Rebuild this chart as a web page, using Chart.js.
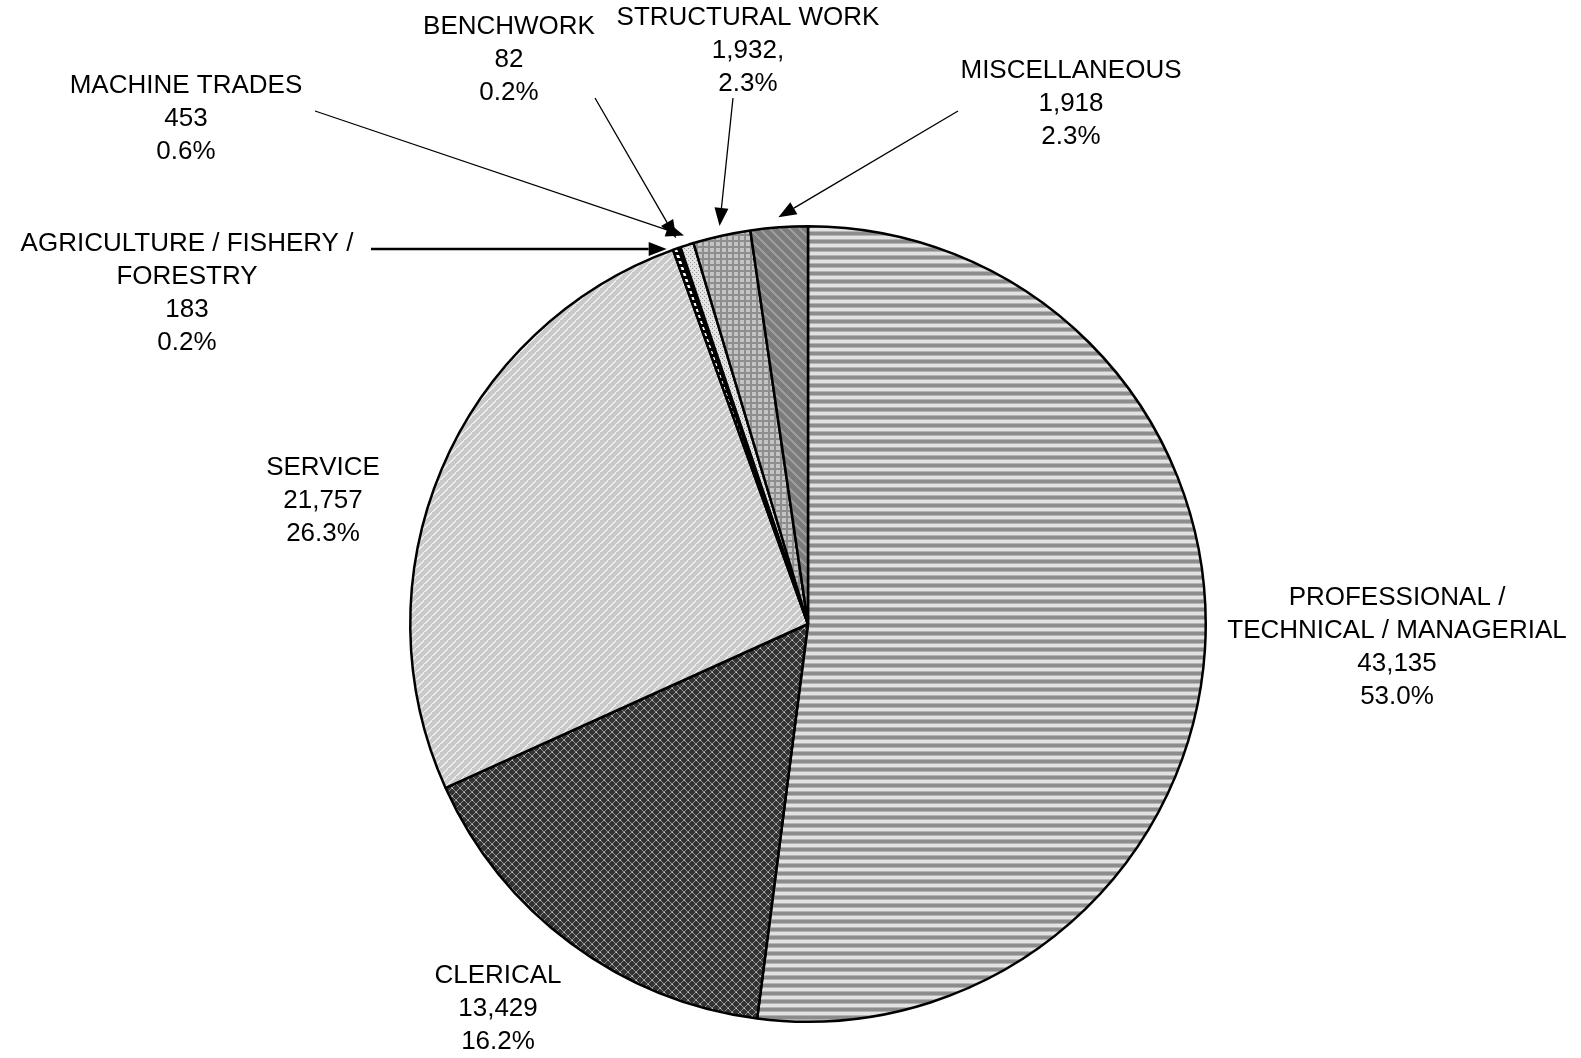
<!DOCTYPE html>
<html>
<head>
<meta charset="utf-8">
<script src="https://cdn.jsdelivr.net/npm/chart.js@4"></script>
<style>
  html, body { margin: 0; padding: 0; background: #fff; }
  #wrap { width: 1581px; height: 1058px; }
</style>
</head>
<body>
<div id="wrap"><canvas id="occ-pie"></canvas></div>
<script>
// data, clockwise from 12 o'clock
const categories = [
  ['PROFESSIONAL /', 'TECHNICAL / MANAGERIAL'],
  ['CLERICAL'],
  ['SERVICE'],
  ['AGRICULTURE / FISHERY /', 'FORESTRY'],
  ['BENCHWORK'],
  ['MACHINE TRADES'],
  ['STRUCTURAL WORK'],
  ['MISCELLANEOUS']
];
const counts = [43135, 13429, 21757, 183, 82, 453, 1932, 1918];
const countLabels = ['43,135', '13,429', '21,757', '183', '82', '453', '1,932,', '1,918'];
const pctLabels = ['53.0%', '16.2%', '26.3%', '0.2%', '0.2%', '0.6%', '2.3%', '2.3%'];

// label placement (text centre x, first line y, arrow start) - layout only
const labelLayout = [
  { x: 1397, y: 598, arrow: null },
  { x: 498, y: 976, arrow: null },
  { x: 323, y: 468, arrow: null },
  { x: 187, y: 244, arrow: [371, 249], tipY: 249, heavy: true },
  { x: 509, y: 27, arrow: [595, 98] },
  { x: 186, y: 86, arrow: [315, 111] },
  { x: 748, y: 18, arrow: [733, 98] },
  { x: 1071, y: 71, arrow: [958, 111] }
];

function makePattern(size, draw) {
  const c = document.createElement('canvas');
  c.width = size; c.height = size;
  const g = c.getContext('2d');
  draw(g, size);
  return document.createElement('canvas').getContext('2d').createPattern(c, 'repeat');
}

// horizontal stripes
const pHoriz = makePattern(8, (g) => {
  g.fillStyle = '#e2e2e2'; g.fillRect(0, 0, 8, 8);
  g.fillStyle = '#8c8c8c'; g.fillRect(0, 0, 8, 3);
  g.fillStyle = '#b4b4b4'; g.fillRect(0, 3, 8, 1); g.fillRect(0, 7, 8, 1);
});
// dark crosshatch
const pCross = makePattern(8, (g) => {
  g.fillStyle = '#333333'; g.fillRect(0, 0, 8, 8);
  g.fillStyle = '#909090';
  for (let i = 0; i < 8; i++) {
    g.fillRect(i, i, 1, 1);
    g.fillRect(7 - i, i, 1, 1);
  }
  g.fillStyle = '#d0d0d0';
  g.fillRect(0, 0, 1, 1); g.fillRect(4, 4, 1, 1);
});
// light diagonal
const pLightDiag = makePattern(8, (g) => {
  g.fillStyle = '#cacaca'; g.fillRect(0, 0, 8, 8);
  g.fillStyle = '#eeeeee';
  for (let i = 0; i < 8; i++) {
    g.fillRect((7 - i + 8) % 8, i, 2, 1);
  }
});
// black / white dash
const pDash = makePattern(6, (g) => {
  g.fillStyle = '#ffffff'; g.fillRect(0, 0, 6, 6);
  g.fillStyle = '#000000'; g.fillRect(0, 0, 6, 3);
});
// dotted light
const pDots = makePattern(4, (g) => {
  g.fillStyle = '#e4e4e4'; g.fillRect(0, 0, 4, 4);
  g.fillStyle = '#9a9a9a'; g.fillRect(0, 0, 1, 1); g.fillRect(2, 2, 1, 1);
});
// grid
const pGrid = makePattern(6, (g) => {
  g.fillStyle = '#c4c4c4'; g.fillRect(0, 0, 6, 6);
  g.fillStyle = '#8e8e8e'; g.fillRect(0, 0, 6, 2); g.fillRect(0, 0, 2, 6);
});
// dark diagonal
const pDarkDiag = makePattern(10, (g) => {
  g.fillStyle = '#7c7c7c'; g.fillRect(0, 0, 10, 10);
  g.fillStyle = '#9c9c9c';
  for (let i = 0; i < 10; i++) {
    g.fillRect(i, i, 3, 1);
    if (i > 7) g.fillRect(i - 10, i, 3, 1);
  }
});

const fills = [pHoriz, pCross, pLightDiag, pDash, pDash, pDots, pGrid, pDarkDiag];

function drawArrow(ctx, x1, y1, x2, y2, heavy) {
  const ang = Math.atan2(y2 - y1, x2 - x1);
  const len = 18, half = 7;
  const bx = x2 - Math.cos(ang) * len, by = y2 - Math.sin(ang) * len;
  ctx.strokeStyle = '#000';
  ctx.lineWidth = heavy ? 2.5 : 1.3;
  ctx.beginPath();
  ctx.moveTo(x1, y1);
  ctx.lineTo(bx, by);
  ctx.stroke();
  ctx.fillStyle = '#000';
  ctx.beginPath();
  ctx.moveTo(x2, y2);
  ctx.lineTo(bx + Math.sin(ang) * half, by - Math.cos(ang) * half);
  ctx.lineTo(bx - Math.sin(ang) * half, by + Math.cos(ang) * half);
  ctx.closePath();
  ctx.fill();
}

const calloutPlugin = {
  id: 'callouts',
  afterDatasetsDraw(chart) {
    const ctx = chart.ctx;
    const arcs = chart.getDatasetMeta(0).data;
    ctx.save();
    ctx.font = '26px "Liberation Sans", Arial, sans-serif';
    ctx.fillStyle = '#000';
    ctx.textAlign = 'center';
    ctx.textBaseline = 'middle';
    arcs.forEach((arc, i) => {
      const lay = labelLayout[i];
      const lines = categories[i].concat([countLabels[i], pctLabels[i]]);
      lines.forEach((t, k) => ctx.fillText(t, lay.x, lay.y + k * 33));
      if (lay.arrow) {
        const p = arc.getProps(['x', 'y', 'startAngle', 'endAngle', 'outerRadius'], true);
        const mid = (p.startAngle + p.endAngle) / 2;
        const r = p.outerRadius + 10;
        let tx = p.x + Math.cos(mid) * r;
        let ty = p.y + Math.sin(mid) * r;
        if (lay.tipY) { ty = lay.tipY; tx = p.x - Math.sqrt(Math.max(0, (p.outerRadius + 3) ** 2 - (ty - p.y) ** 2)); }
        drawArrow(ctx, lay.arrow[0], lay.arrow[1], tx, ty, lay.heavy);
      }
    });
    ctx.restore();
  }
};

new Chart(document.getElementById('occ-pie'), {
  type: 'pie',
  data: {
    labels: categories.map(c => c.join(' ')),
    datasets: [{
      data: counts,
      backgroundColor: fills,
      borderColor: '#000',
      borderWidth: 2.5
    }]
  },
  options: {
    responsive: true,
    maintainAspectRatio: false,
    animation: false,
    layout: { padding: { left: 409, right: 374, top: 225, bottom: 35 } },
    plugins: {
      legend: { display: false },
      tooltip: { enabled: false }
    }
  },
  plugins: [calloutPlugin]
});
</script>
</body>
</html>
